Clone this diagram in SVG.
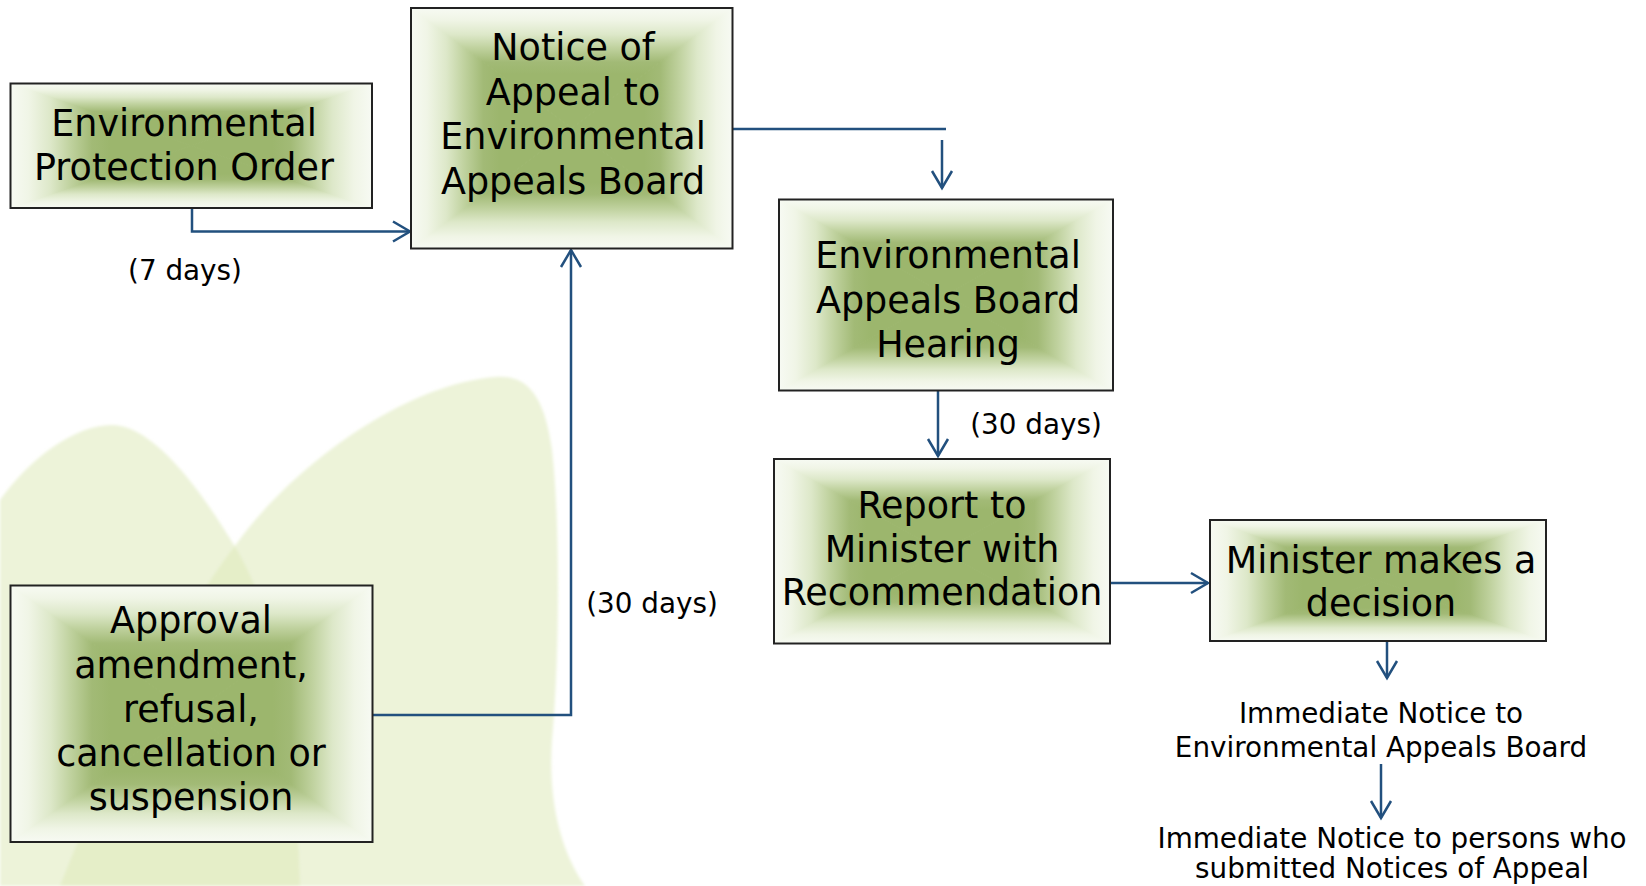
<svg xmlns="http://www.w3.org/2000/svg" width="1646" height="886" viewBox="0 0 1646 886">
<style>
.bt{font-family:"DejaVu Sans",Verdana,sans-serif;font-size:36.5px;text-anchor:middle;fill:#000}
.lb{font-family:"DejaVu Sans",Verdana,sans-serif;font-size:27.8px;text-anchor:middle;fill:#000}
.frame{fill:none;stroke:#222;stroke-width:2}
.t{fill:url(#gT);stroke:url(#gT);stroke-width:1}
.b{fill:url(#gB);stroke:url(#gB);stroke-width:1}
.l{fill:url(#gL);stroke:url(#gL);stroke-width:1}
.r{fill:url(#gR);stroke:url(#gR);stroke-width:1}
.cn{fill:none;stroke:#22507e;stroke-width:2.5}
.petal{fill:#dfe9b9;opacity:0.55}
</style>
<defs>
<linearGradient id="gT" x1="0" y1="0" x2="0" y2="1">
<stop offset="0" stop-color="#f7faf3"/><stop offset="0.1" stop-color="#f0f5e6"/><stop offset="0.22" stop-color="#dde8c9"/><stop offset="0.33" stop-color="#c0d29f"/><stop offset="0.45" stop-color="#a2ba76"/><stop offset="0.55" stop-color="#9cb66d"/><stop offset="1" stop-color="#9cb66d"/>
</linearGradient>
<linearGradient id="gB" href="#gT" x1="0" y1="1" x2="0" y2="0"/>
<linearGradient id="gL" href="#gT" x1="0" y1="0" x2="1" y2="0"/>
<linearGradient id="gR" href="#gT" x1="1" y1="0" x2="0" y2="0"/>
<filter id="soft" x="-5%" y="-5%" width="110%" height="110%"><feGaussianBlur stdDeviation="1.5"/></filter>
<marker id="arr" markerWidth="24" markerHeight="24" refX="18" refY="10" orient="auto" markerUnits="userSpaceOnUse" overflow="visible">
<path d="M1,0 L18,10 L1,20" fill="none" stroke="#22507e" stroke-width="2.5"/>
</marker>
</defs>
<rect width="1646" height="886" fill="#fff"/>
<g id="background" filter="url(#soft)">
<path class="petal" d="M0,500 C30,458 75,425 112,425 C150,425 195,480 237,550 C275,615 295,720 300,886 L0,886 Z"/>
<path class="petal" d="M237,543 C290,470 400,385 495,377 C530,374 545,400 552,450 C560,520 560,650 552,740 C548,800 560,850 585,886 L60,886 C110,760 170,630 237,543 Z"/>
</g>
<g id="connectors">
<path class="cn" d="M192,208 V231.5 H410" marker-end="url(#arr)"/>
<path class="cn" d="M373,715 H571 V250" marker-end="url(#arr)"/>
<path class="cn" d="M733,129 H946"/>
<path class="cn" d="M942,140 V188" marker-end="url(#arr)"/>
<path class="cn" d="M938,391 V456" marker-end="url(#arr)"/>
<path class="cn" d="M1110,583 H1208" marker-end="url(#arr)"/>
<path class="cn" d="M1387,641 V678" marker-end="url(#arr)"/>
<path class="cn" d="M1381,764 V818" marker-end="url(#arr)"/>
</g>
<g id="epo">
<polygon class="t" points="10.5,83.5 372,83.5 191.25,145.75"/>
<polygon class="b" points="10.5,208 372,208 191.25,145.75"/>
<polygon class="l" points="10.5,83.5 10.5,208 191.25,145.75"/>
<polygon class="r" points="372,83.5 372,208 191.25,145.75"/>
<rect class="frame" x="10.5" y="83.5" width="361.5" height="124.5"/>
<text class="bt" x="184" y="136">Environmental</text>
<text class="bt" x="184" y="180">Protection Order</text>
</g>
<g id="notice">
<polygon class="t" points="411,8 732.5,8 571.75,128.25"/>
<polygon class="b" points="411,248.5 732.5,248.5 571.75,128.25"/>
<polygon class="l" points="411,8 411,248.5 571.75,128.25"/>
<polygon class="r" points="732.5,8 732.5,248.5 571.75,128.25"/>
<rect class="frame" x="411" y="8" width="321.5" height="240.5"/>
<text class="bt" x="573" y="60">Notice of</text>
<text class="bt" x="573" y="104.5">Appeal to</text>
<text class="bt" x="573" y="149">Environmental</text>
<text class="bt" x="573" y="193.5">Appeals Board</text>
</g>
<g id="hearing">
<polygon class="t" points="779,199.5 1113,199.5 946,295"/>
<polygon class="b" points="779,390.5 1113,390.5 946,295"/>
<polygon class="l" points="779,199.5 779,390.5 946,295"/>
<polygon class="r" points="1113,199.5 1113,390.5 946,295"/>
<rect class="frame" x="779" y="199.5" width="334" height="191"/>
<text class="bt" x="948" y="268">Environmental</text>
<text class="bt" x="948" y="313">Appeals Board</text>
<text class="bt" x="948" y="357">Hearing</text>
</g>
<g id="report">
<polygon class="t" points="774,459 1110,459 942,551.25"/>
<polygon class="b" points="774,643.5 1110,643.5 942,551.25"/>
<polygon class="l" points="774,459 774,643.5 942,551.25"/>
<polygon class="r" points="1110,459 1110,643.5 942,551.25"/>
<rect class="frame" x="774" y="459" width="336" height="184.5"/>
<text class="bt" x="942" y="518">Report to</text>
<text class="bt" x="942" y="561.5">Minister with</text>
<text class="bt" x="942" y="605">Recommendation</text>
</g>
<g id="minister">
<polygon class="t" points="1210,520 1546,520 1378,580.5"/>
<polygon class="b" points="1210,641 1546,641 1378,580.5"/>
<polygon class="l" points="1210,520 1210,641 1378,580.5"/>
<polygon class="r" points="1546,520 1546,641 1378,580.5"/>
<rect class="frame" x="1210" y="520" width="336" height="121"/>
<text class="bt" x="1381" y="573">Minister makes a</text>
<text class="bt" x="1381" y="616">decision</text>
</g>
<g id="approval">
<polygon class="t" points="10.5,585.5 372.5,585.5 191.5,713.75"/>
<polygon class="b" points="10.5,842 372.5,842 191.5,713.75"/>
<polygon class="l" points="10.5,585.5 10.5,842 191.5,713.75"/>
<polygon class="r" points="372.5,585.5 372.5,842 191.5,713.75"/>
<rect class="frame" x="10.5" y="585.5" width="362" height="256.5"/>
<text class="bt" x="191" y="633">Approval</text>
<text class="bt" x="191" y="678">amendment,</text>
<text class="bt" x="191" y="722">refusal,</text>
<text class="bt" x="191" y="766">cancellation or</text>
<text class="bt" x="191" y="810">suspension</text>
</g>
<g id="labels">
<text class="lb" x="185" y="280">(7 days)</text>
<text class="lb" x="1036" y="434">(30 days)</text>
<text class="lb" x="652" y="613">(30 days)</text>
</g>
<g id="notice-eab">
<text class="lb" x="1381" y="723">Immediate Notice to</text>
<text class="lb" x="1381" y="757">Environmental Appeals Board</text>
</g>
<g id="notice-persons">
<text class="lb" x="1392" y="848">Immediate Notice to persons who</text>
<text class="lb" x="1392" y="878">submitted Notices of Appeal</text>
</g>
</svg>
